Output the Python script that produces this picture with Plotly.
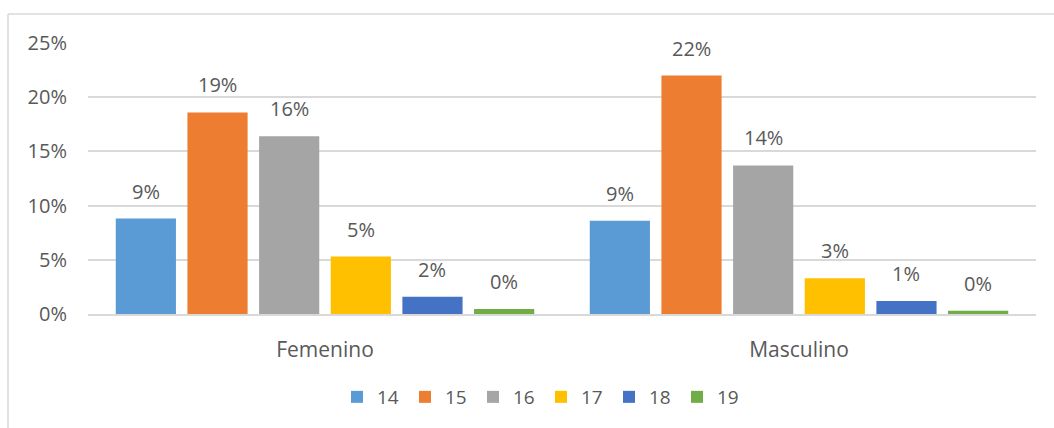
import plotly.graph_objects as go

categories = ["Femenino", "Masculino"]
ages = ["14", "15", "16", "17", "18", "19"]
v14 = [0.088, 0.086]
v15 = [0.186, 0.220]
v16 = [0.164, 0.137]
v17 = [0.053, 0.033]
v18 = [0.016, 0.012]
v19 = [0.0045, 0.003]
series = [v14, v15, v16, v17, v18, v19]
colors = ["#5B9BD5", "#ED7D31", "#A5A5A5", "#FFC000", "#4472C4", "#70AD47"]

W, H = 1054, 428
L, R, T, B = 88, 18, 43, 114
FONT = "Open Sans"
TXT = "#595959"
BARGAP = 0.093

fig = go.Figure()
for name, vals, col in zip(ages, series, colors):
    fig.add_trace(go.Bar(
        x=categories, y=vals, name=name,
        marker=dict(color=col, line=dict(width=0)),
    ))

pw = W - L - R
ph = H - T - B
def px_x(x):
    return (x - L) / pw
def px_y(y):
    return (H - B - y) / ph

slot = pw / len(categories) * (1 - BARGAP) / len(series)
annotations = []
for i, vals in enumerate(series):
    off = (i - (len(series) - 1) / 2) * slot
    for c, v in zip(categories, vals):
        annotations.append(dict(
            x=c, y=v, xref="x", yref="y", text=f"{int(v*100 + 0.5)}%",
            showarrow=False, xshift=off, yanchor="bottom", yshift=12,
            font=dict(family=FONT, size=20, color=TXT),
        ))

fig.update_layout(
    width=W, height=H,
    margin=dict(l=L, r=R, t=T, b=B),
    paper_bgcolor="white", plot_bgcolor="white",
    barmode="group", bargap=BARGAP, bargroupgap=0.16,
    font=dict(family=FONT, size=20, color=TXT),
    showlegend=True,
    legend=dict(orientation="h", x=px_x(541), xanchor="center", y=px_y(397), yanchor="middle",
                font=dict(family=FONT, size=19, color=TXT), entrywidth=23,
                traceorder="normal"),
    annotations=annotations,
    shapes=[
        dict(type="line", xref="paper", yref="paper", x0=px_x(8), x1=px_x(1054), y0=px_y(14), y1=px_y(14),
             line=dict(color="#D9D9D9", width=1.5)),
        dict(type="line", xref="paper", yref="paper", x0=px_x(8), x1=px_x(8), y0=px_y(14), y1=px_y(428),
             line=dict(color="#D9D9D9", width=1.5)),
    ],
)
fig.update_yaxes(range=[0, 0.25], dtick=0.05, tickformat=".0%", showgrid=True,
                 gridcolor="#D9D9D9", gridwidth=1.5, zeroline=False, showline=False,
                 ticks="", ticklabelstandoff=20, tickfont=dict(family=FONT, size=20, color=TXT))
fig.update_xaxes(showline=True, linecolor="#D9D9D9", linewidth=1.5, ticks="",
                 ticklabelstandoff=16, tickfont=dict(family=FONT, size=21, color=TXT))

fig.write_html("out.html")
